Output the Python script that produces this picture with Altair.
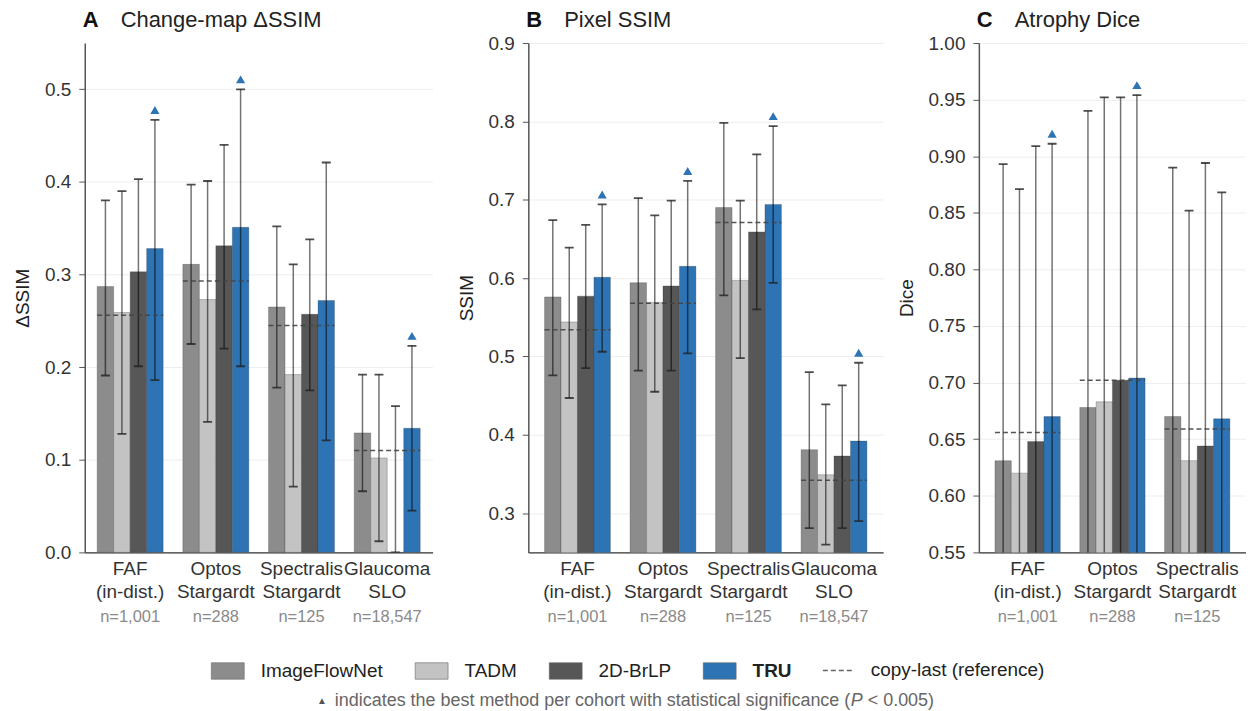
import altair as alt
import pandas as pd

FONT = "Liberation Sans"

methods = ["ImageFlowNet", "TADM", "2D-BrLP", "TRU"]
method_colors = ["#8c8c8c", "#c3c3c3", "#575757", "#2e74b5"]

cohorts4 = ["FAF|(in-dist.)", "Optos|Stargardt", "Spectralis|Stargardt", "Glaucoma|SLO"]
n_labels4 = ["n=1,001", "n=288", "n=125", "n=18,547"]

# ---- Panel A: Change-map dSSIM ----
a_mean_ifn = [0.287, 0.311, 0.265, 0.129]
a_mean_tadm = [0.259, 0.273, 0.192, 0.102]
a_mean_brlp = [0.303, 0.331, 0.257, 0.0]
a_mean_tru = [0.328, 0.351, 0.272, 0.134]
a_low_ifn = [0.191, 0.225, 0.178, 0.066]
a_low_tadm = [0.128, 0.141, 0.071, 0.012]
a_low_brlp = [0.201, 0.220, 0.175, 0.0]
a_low_tru = [0.186, 0.201, 0.121, 0.045]
a_high_ifn = [0.380, 0.397, 0.352, 0.192]
a_high_tadm = [0.390, 0.401, 0.311, 0.192]
a_high_brlp = [0.403, 0.440, 0.338, 0.158]
a_high_tru = [0.467, 0.500, 0.421, 0.223]
a_copy = [0.256, 0.293, 0.245, 0.110]
a_best = [True, True, False, True]

# ---- Panel B: Pixel SSIM ----
b_mean_ifn = [0.576, 0.594, 0.690, 0.381]
b_mean_tadm = [0.544, 0.569, 0.597, 0.349]
b_mean_brlp = [0.577, 0.590, 0.659, 0.373]
b_mean_tru = [0.601, 0.615, 0.694, 0.392]
b_low_ifn = [0.476, 0.482, 0.578, 0.281]
b_low_tadm = [0.447, 0.455, 0.498, 0.260]
b_low_brlp = [0.485, 0.482, 0.560, 0.281]
b_low_tru = [0.506, 0.504, 0.594, 0.290]
b_high_ifn = [0.674, 0.702, 0.798, 0.480]
b_high_tadm = [0.639, 0.680, 0.699, 0.439]
b_high_brlp = [0.668, 0.699, 0.758, 0.463]
b_high_tru = [0.694, 0.724, 0.794, 0.492]
b_copy = [0.534, 0.568, 0.671, 0.342]
b_best = [True, True, True, True]

# ---- Panel C: Atrophy Dice ----
cohorts3 = cohorts4[:3]
n_labels3 = n_labels4[:3]
c_mean_ifn = [0.631, 0.678, 0.670]
c_mean_tadm = [0.620, 0.683, 0.631]
c_mean_brlp = [0.648, 0.702, 0.644]
c_mean_tru = [0.670, 0.704, 0.668]
c_low_ifn = [0.37, 0.42, 0.45]
c_low_tadm = [0.37, 0.41, 0.41]
c_low_brlp = [0.39, 0.45, 0.39]
c_low_tru = [0.43, 0.45, 0.47]
c_high_ifn = [0.893, 0.940, 0.890]
c_high_tadm = [0.871, 0.952, 0.852]
c_high_brlp = [0.909, 0.952, 0.894]
c_high_tru = [0.911, 0.954, 0.868]
c_copy = [0.656, 0.702, 0.659]
c_best = [True, True, False]

HEIGHT = 511


def long_df(cohorts, means, lows, highs, best):
    rows = []
    for m, mean, low, high in zip(methods, means, lows, highs):
        for i, c in enumerate(cohorts):
            rows.append({"cohort": c, "method": m, "mean": mean[i], "low": low[i],
                         "high": high[i], "best": bool(best[i]) and m == "TRU"})
    return pd.DataFrame(rows)


color_enc = alt.Color(
    "method:N",
    scale=alt.Scale(domain=methods, range=method_colors),
    legend=alt.Legend(
        orient="none", legendX=126.5, legendY=613, direction="horizontal", title=None,
        symbolType="M-1,-0.5H1V0.5H-1Z", symbolSize=1089, symbolStrokeColor="#666",
        symbolStrokeWidth=0.6, symbolOpacity=1, labelFont=FONT, labelFontSize=19,
        labelColor="#222", labelOffset=16, columnPadding=30.5, labelLimit=300,
        labelFontWeight={"expr": "datum.label == 'TRU' ? 'bold' : 'normal'"},
    ),
)

dash_enc = alt.StrokeDash(
    "ref:N",
    scale=alt.Scale(domain=["copy-last (reference)"], range=[[5, 3]]),
    legend=alt.Legend(
        orient="none", legendX=739.5, legendY=613, title=None, symbolType="stroke",
        symbolSize=961, symbolStrokeWidth=1.5, symbolStrokeColor="#555",
        labelFont=FONT, labelFontSize=19, labelColor="#222", labelOffset=16, labelLimit=300,
    ),
)


def panel(cohorts, ns, means, lows, highs, copy, best, ydomain, yticks, yfmt, ytitle,
          letter, title, width, pad_outer, extra=None):
    df = long_df(cohorts, means, lows, highs, best)
    xscale = alt.Scale(domain=cohorts, paddingInner=0.23, paddingOuter=pad_outer)
    xenc = alt.X("cohort:N", scale=xscale, sort=cohorts,
                 axis=alt.Axis(labelExpr="split(datum.label, '|')", title=None, labelAngle=0,
                               labelLineHeight=23, labelOverlap=False, ticks=False,
                               labelPadding=7, domainColor="#333", domainWidth=1.5))
    xoff = alt.XOffset("method:N", sort=methods,
                       scale=alt.Scale(domain=methods, paddingInner=0, paddingOuter=0))
    yscale = alt.Scale(domain=ydomain, nice=False, zero=False)
    yaxis = alt.Axis(values=yticks, format=yfmt, title=ytitle, grid=True)
    base = alt.Chart(df).encode(x=xenc, xOffset=xoff)
    bars = base.mark_bar(clip=True, stroke="#333", strokeOpacity=0.35, strokeWidth=0.8).encode(
        y=alt.Y("mean:Q", scale=yscale, axis=yaxis), color=color_enc)
    err = base.mark_rule(clip=True, color="black", opacity=0.55, strokeWidth=1.5).encode(
        y=alt.Y("low:Q", scale=yscale), y2="high:Q")
    cap_hi = base.mark_tick(clip=True, color="#222", opacity=0.8, size=9, thickness=1.8).encode(
        y=alt.Y("high:Q", scale=yscale))
    cap_lo = base.mark_tick(clip=True, color="#222", opacity=0.8, size=9, thickness=1.8).encode(
        y=alt.Y("low:Q", scale=yscale))
    tri = base.transform_filter("datum.best").mark_point(
        shape="triangle-up", filled=True, size=85, color="#2e74b5", opacity=1).encode(
        y=alt.Y("high:Q", scale=yscale), yOffset=alt.value(-10))
    cdf = pd.DataFrame({"cohort": cohorts, "copy": copy, "ref": ["copy-last (reference)"] * len(cohorts)})
    cp = alt.Chart(cdf).mark_rule(color="#444", strokeWidth=1.5, opacity=0.9).encode(
        x=alt.X("cohort:N", scale=xscale, sort=cohorts, bandPosition=0),
        x2=alt.X2("cohort:N", bandPosition=1),
        y=alt.Y("copy:Q", scale=yscale), strokeDash=dash_enc)
    ndf = pd.DataFrame({"cohort": cohorts, "n": ns})
    ntext = alt.Chart(ndf).mark_text(font=FONT, fontSize=16.5, color="#8a8a8a", baseline="middle").encode(
        x=alt.X("cohort:N", scale=xscale, sort=cohorts), y=alt.value(HEIGHT + 65), text="n:N")
    ldf = pd.DataFrame({"t": [letter]})
    let = alt.Chart(ldf).mark_text(font=FONT, fontSize=22, fontWeight="bold", align="left",
                                   baseline="middle", color="#111").encode(
        x=alt.value(-2), y=alt.value(-23), text="t:N")
    tdf = pd.DataFrame({"t": [title]})
    ttl = alt.Chart(tdf).mark_text(font=FONT, fontSize=22, align="left", baseline="middle",
                                   color="#222").encode(x=alt.value(36), y=alt.value(-23), text="t:N")
    layers = [bars, err, cap_hi, cap_lo, cp, tri, ntext, let, ttl]
    if extra:
        layers += extra
    return alt.layer(*layers).properties(width=width, height=HEIGHT)


# footnote (placed in panel B's coordinate frame)
fn1 = ["indicates the best method per cohort with statistical significance ("]
fn_p = ["P"]
fn2 = ["< 0.005)"]
FN_Y = 660
FN_SIZE = 18
P_X = 323
foot = [
    alt.Chart(pd.DataFrame({"t": ["\u25b2"]})).mark_text(font=FONT, fontSize=10, color="#555", align="center",
                                                       baseline="middle").encode(
        x=alt.value(-207), y=alt.value(FN_Y), text="t:N"),
    alt.Chart(pd.DataFrame({"t": fn1})).mark_text(font=FONT, fontSize=FN_SIZE, color="#666", align="right",
                                                  baseline="middle").encode(
        x=alt.value(P_X), y=alt.value(FN_Y), text="t:N"),
    alt.Chart(pd.DataFrame({"t": fn_p})).mark_text(font=FONT, fontSize=FN_SIZE, color="#666", align="left",
                                                   fontStyle="italic", baseline="middle").encode(
        x=alt.value(P_X + 0.5), y=alt.value(FN_Y), text="t:N"),
    alt.Chart(pd.DataFrame({"t": fn2})).mark_text(font=FONT, fontSize=FN_SIZE, color="#666", align="left",
                                                  baseline="middle").encode(
        x=alt.value(P_X + 17.5), y=alt.value(FN_Y), text="t:N"),
]

A = panel(cohorts4, n_labels4, [a_mean_ifn, a_mean_tadm, a_mean_brlp, a_mean_tru],
          [a_low_ifn, a_low_tadm, a_low_brlp, a_low_tru],
          [a_high_ifn, a_high_tadm, a_high_brlp, a_high_tru], a_copy, a_best,
          [0, 0.55], [0.0, 0.1, 0.2, 0.3, 0.4, 0.5], ".1f", "\u0394SSIM", "A",
          "Change-map \u0394SSIM", 349, 0.145)
B = panel(cohorts4, n_labels4, [b_mean_ifn, b_mean_tadm, b_mean_brlp, b_mean_tru],
          [b_low_ifn, b_low_tadm, b_low_brlp, b_low_tru],
          [b_high_ifn, b_high_tadm, b_high_brlp, b_high_tru], b_copy, b_best,
          [0.25, 0.9], [0.3, 0.4, 0.5, 0.6, 0.7, 0.8, 0.9], ".1f", "SSIM", "B",
          "Pixel SSIM", 356, 0.19, extra=foot)
C = panel(cohorts3, n_labels3, [c_mean_ifn, c_mean_tadm, c_mean_brlp, c_mean_tru],
          [c_low_ifn, c_low_tadm, c_low_brlp, c_low_tru],
          [c_high_ifn, c_high_tadm, c_high_brlp, c_high_tru], c_copy, c_best,
          [0.55, 1.0], [0.55, 0.6, 0.65, 0.7, 0.75, 0.8, 0.85, 0.9, 0.95, 1.0], ".2f", "Dice", "C",
          "Atrophy Dice", 268, 0.19)

chart = alt.hconcat(A, B, C, spacing=96, bounds="flush").resolve_scale(
    x="independent", y="independent", xOffset="independent"
).properties(
    padding={"left": 5, "top": 0, "right": 0, "bottom": 0}
).configure(font=FONT, background="white").configure_view(stroke=None).configure_axis(
    labelFont=FONT, labelFontSize=19, labelColor="#333", titleFont=FONT, titleFontSize=19,
    titleFontWeight="normal", titleColor="#222", domainColor="#555", tickColor="#555",
    gridColor="#eeeeee", gridWidth=1,
).configure_axisY(tickSize=6, labelPadding=8, titlePadding=12, domainWidth=1.5)

chart.save("out.html", embed_options={"renderer": "svg", "actions": False})
